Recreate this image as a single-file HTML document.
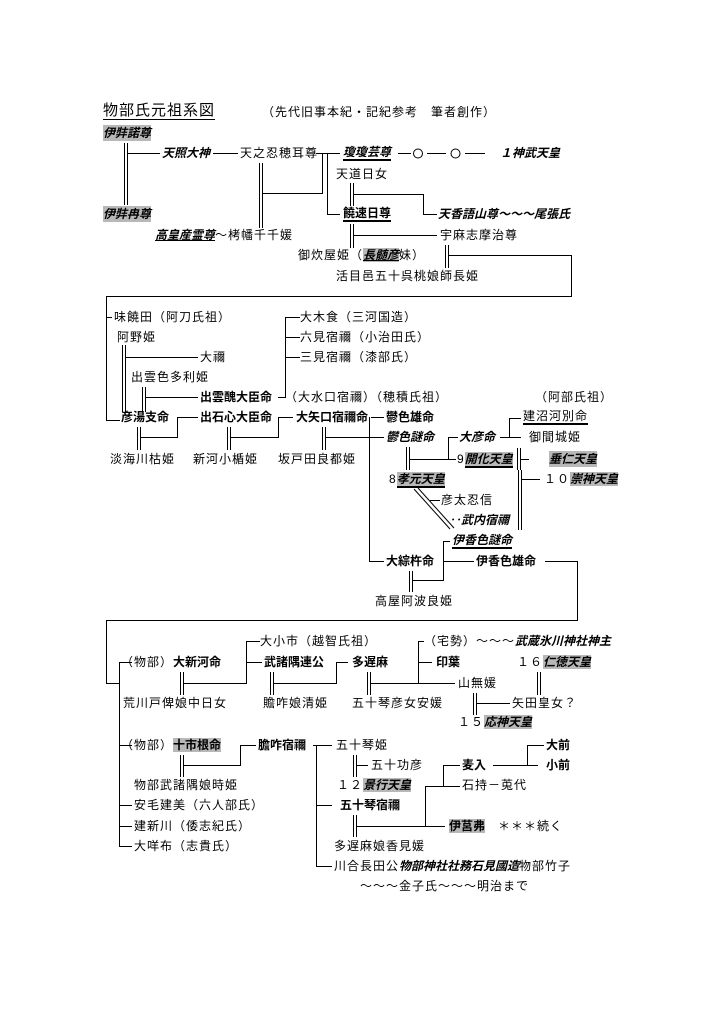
<!DOCTYPE html>
<html><head><meta charset="utf-8">
<style>
html,body{margin:0;padding:0;background:#fff;}
body{width:723px;height:1023px;position:relative;overflow:hidden;font-family:"Liberation Sans","Noto Sans CJK JP",sans-serif;font-size:12px;color:#000;}
.t{position:absolute;white-space:nowrap;line-height:16px;letter-spacing:1px;}
.b{font-weight:bold;letter-spacing:0px;}
.i{font-style:italic;font-weight:bold;letter-spacing:0px;}
.g{background:#b8b8b8;}
.u{border-bottom:2px solid #000;}
svg{position:absolute;left:0;top:0;}
</style></head><body>
<svg width="723" height="1023" viewBox="0 0 723 1023" fill="none" stroke="#000" stroke-width="1" shape-rendering="crispEdges">
<path d="M124.5 143V205M127.5 143V205M128 153.5H160M213 153.5H238"/>
<path d="M259.5 163V228M262.5 163V228M262 193.5H322.5V153.5H340M316 153.5H327.5V214.5H340"/>
<path d="M398 153.5H411M427 153.5H446M465 153.5H485"/>
<circle cx="418" cy="153.5" r="4.5" shape-rendering="auto"/><circle cx="455.5" cy="153.5" r="4.5" shape-rendering="auto"/>
<path d="M350.5 183V206M353.5 183V206M353 194.5H423.5V214.5H437"/>
<path d="M350.5 224V248M353.5 224V248M353 235.5H437"/>
<path d="M445.5 245V268M448.5 245V268M448 255.5H571.5V296.5H106.5V420.5H120M106 317.5H112"/>
<path d="M122.5 345V412M125.5 345V412M125 357.5H198"/>
<path d="M142.5 387V412M145.5 387V412M145 397.5H198"/>
<path d="M278 397.5H285.5V317.5H300M285 337.5H300M285 357.5H300"/>
<path d="M137.5 427V450M140.5 427V450M140 437.5H177.5V417.5H198"/>
<path d="M227.5 427V450M230.5 427V450M230 437.5H278.5V417.5H293"/>
<path d="M371 417.5H384M322.5 427V450M325.5 427V450M325 437.5H384"/>
<path d="M369.5 417V561.5H384"/>
<path d="M406.5 447V470M409.5 447V470M409 459.5H456M448.5 459.5V437.5H458"/>
<path d="M500 437.5H521M509.5 437.5V418.5H521"/>
<path d="M517.5 448V470M520.5 448V470M521 459.5H529"/>
<path d="M518.5 470V530M521.5 470V530M521 479.5H540"/>
<path d="M414 489L450 529M418 488L454 528M430 500.5H440" shape-rendering="auto"/>
<path d="M443.5 541.5V580.5H412M443 541.5H450M443 561.5H474"/>
<path d="M409.5 571V592M412.5 571V592"/>
<path d="M545 561.5H577.5V620.5H106.5V683.5H119.5M119.5 662V846.5H132M119 662.5H132M119 745.5H132M119 805.5H132M119 826.5H132"/>
<path d="M180.5 672V695M183.5 672V695M183 683.5H246.5V641.5H260M246 662.5H262"/>
<path d="M270.5 672V695M273.5 672V695M273 683.5H336.5V662.5H348"/>
<path d="M367.5 672V695M370.5 672V695M370 683.5H455M418.5 683.5V641.5H424M418 662.5H432"/>
<path d="M473.5 693V715M476.5 693V715M476 703.5H510"/>
<path d="M537.5 672V695M540.5 672V695"/>
<path d="M180.5 755V777M183.5 755V777M183 765.5H240.5V745.5H256"/>
<path d="M313 745.5H332M316.5 745.5V866.5H332M316 805.5H332"/>
<path d="M353.5 755V777M356.5 755V777M356 765.5H368"/>
<path d="M353.5 815V837M356.5 815V837M356 826.5H445M425.5 826.5V786.5H460M443.5 786.5V765.5H460"/>
<path d="M493 765.5H538M527.5 765.5V745.5H544"/>
</svg>

<div class="t" style="left:103px;top:102px;font-size:15px;letter-spacing:1px;border-bottom:1px solid #000;line-height:17px;">物部氏元祖系図</div>
<div class="t" style="left:262px;top:104px;">（先代旧事本紀・記紀参考　筆者創作）</div>
<div class="t i g" style="left:103px;top:125px;">伊弉諾尊</div>
<div class="t i" style="left:162px;top:145px;">天照大神</div>
<div class="t" style="left:240px;top:145px;">天之忍穂耳尊</div>
<div class="t i u" style="left:343px;top:145px;line-height:14px;">瓊瓊芸尊</div>
<div class="t i" style="left:500px;top:145px;">１神武天皇</div>
<div class="t" style="left:336px;top:166px;">天道日女</div>
<div class="t i g" style="left:103px;top:206px;">伊弉冉尊</div>
<div class="t b u" style="left:343px;top:206px;line-height:14px;">饒速日尊</div>
<div class="t i" style="left:438px;top:206px;">天香語山尊～～～尾張氏</div>
<div class="t" style="left:155px;top:227px;"><span class="i" style="text-decoration:underline">高皇産霊尊</span>～栲幡千千媛</div>
<div class="t" style="left:440px;top:227px;">宇麻志摩治尊</div>
<div class="t" style="left:298px;top:247px;">御炊屋姫（<span class="i g" style="text-decoration:underline">長髄彦</span>妹）</div>
<div class="t" style="left:336px;top:268px;">活目邑五十呉桃娘師長姫</div>

<div class="t" style="left:114px;top:309px;">味饒田（阿刀氏祖）</div>
<div class="t" style="left:117px;top:329px;">阿野姫</div>
<div class="t" style="left:200px;top:349px;">大禰</div>
<div class="t" style="left:131px;top:369px;">出雲色多利姫</div>
<div class="t b" style="left:200px;top:389px;">出雲醜大臣命</div>
<div class="t" style="left:285px;top:389px;">（大水口宿禰）（穂積氏祖）</div>
<div class="t" style="left:300px;top:309px;">大木食（三河国造）</div>
<div class="t" style="left:300px;top:329px;">六見宿禰（小治田氏）</div>
<div class="t" style="left:300px;top:349px;">三見宿禰（漆部氏）</div>
<div class="t" style="left:535px;top:389px;">（阿部氏祖）</div>
<div class="t b" style="left:121px;top:409px;">彦湯支命</div>
<div class="t b" style="left:200px;top:409px;">出石心大臣命</div>
<div class="t b" style="left:296px;top:409px;">大矢口宿禰命</div>
<div class="t b" style="left:386px;top:409px;">鬱色雄命</div>
<div class="t u" style="left:523px;top:409px;line-height:14px;">建沼河別命</div>
<div class="t i" style="left:386px;top:429px;">鬱色謎命</div>
<div class="t i" style="left:459px;top:429px;">大彦命</div>
<div class="t" style="left:529px;top:429px;">御間城姫</div>
<div class="t" style="left:110px;top:451px;">淡海川枯姫</div>
<div class="t" style="left:193px;top:451px;">新河小楯姫</div>
<div class="t" style="left:278px;top:451px;">坂戸田良都姫</div>
<div class="t" style="left:457px;top:451px;">9<span class="i g u">開化天皇</span></div>
<div class="t i g" style="left:549px;top:451px;">垂仁天皇</div>
<div class="t" style="left:389px;top:471px;">8<span class="i g u">孝元天皇</span></div>
<div class="t" style="left:544px;top:471px;">１０<span class="i g">崇神天皇</span></div>
<div class="t" style="left:441px;top:492px;">彦太忍信</div>
<div class="t i" style="left:449px;top:512px;">‥武内宿禰</div>
<div class="t i u" style="left:452px;top:533px;line-height:14px;">伊香色謎命</div>
<div class="t b" style="left:386px;top:553px;">大綜杵命</div>
<div class="t b" style="left:476px;top:553px;">伊香色雄命</div>
<div class="t" style="left:375px;top:593px;">高屋阿波良姫</div>

<div class="t" style="left:260px;top:633px;">大小市（越智氏祖）</div>
<div class="t" style="left:424px;top:633px;">（宅勢）～～～<span class="i">武蔵氷川神社神主</span></div>
<div class="t" style="left:121px;top:654px;">（物部）<span class="b">大新河命</span></div>
<div class="t b" style="left:264px;top:654px;">武諸隅連公</div>
<div class="t b" style="left:352px;top:654px;">多遅麻</div>
<div class="t b" style="left:436px;top:654px;">印葉</div>
<div class="t" style="left:517px;top:654px;">１６<span class="i g">仁徳天皇</span></div>
<div class="t" style="left:458px;top:675px;">山無媛</div>
<div class="t" style="left:123px;top:695px;">荒川戸俾娘中日女</div>
<div class="t" style="left:263px;top:695px;">贍咋娘清姫</div>
<div class="t" style="left:352px;top:695px;">五十琴彦女安媛</div>
<div class="t" style="left:512px;top:695px;">矢田皇女？</div>
<div class="t" style="left:458px;top:714px;">１５<span class="i g">応神天皇</span></div>

<div class="t" style="left:121px;top:737px;">（物部）<span class="b g">十市根命</span></div>
<div class="t b" style="left:258px;top:737px;">膽咋宿禰</div>
<div class="t" style="left:336px;top:737px;">五十琴姫</div>
<div class="t b" style="left:546px;top:737px;">大前</div>
<div class="t" style="left:371px;top:757px;">五十功彦</div>
<div class="t b" style="left:462px;top:757px;">麦入</div>
<div class="t b" style="left:546px;top:757px;">小前</div>
<div class="t" style="left:134px;top:777px;">物部武諸隅娘時姫</div>
<div class="t" style="left:337px;top:777px;">１２<span class="i g">景行天皇</span></div>
<div class="t" style="left:462px;top:777px;">石持－莵代</div>
<div class="t" style="left:134px;top:797px;">安毛建美（六人部氏）</div>
<div class="t b" style="left:340px;top:797px;">五十琴宿禰</div>
<div class="t" style="left:134px;top:818px;">建新川（倭志紀氏）</div>
<div class="t" style="left:449px;top:818px;"><span class="b g">伊莒弗</span>　＊＊＊続く</div>
<div class="t" style="left:134px;top:838px;">大咩布（志貴氏）</div>
<div class="t" style="left:334px;top:838px;">多遅麻娘香見媛</div>
<div class="t" style="left:334px;top:858px;">川合長田公<span class="i">物部神社社務石見國造</span>物部竹子</div>
<div class="t" style="left:360px;top:878px;">～～～金子氏～～～明治まで</div>
</body></html>
